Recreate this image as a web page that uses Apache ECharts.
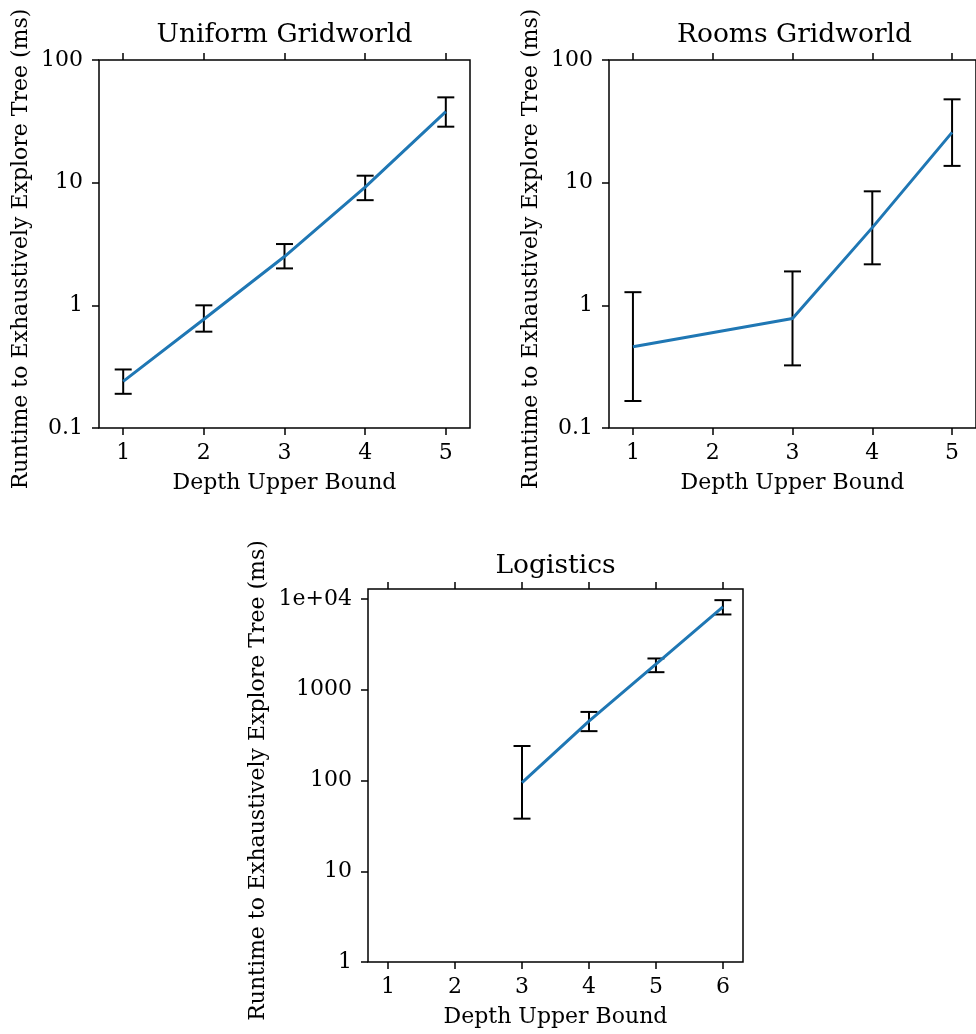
<!DOCTYPE html>
<html lang="en">
<head>
    <meta charset="UTF-8">
    <script src="https://cdn.jsdelivr.net/npm/echarts@6/dist/echarts.min.js"></script>
    <title>Runtime vs depth</title>
    <style>
        html, body { margin: 0; padding: 0; background: #fff; }
        #chart { width: 976px; height: 1034px; }
    </style>
</head>
<body>
    <div id="chart"></div>
    <script type="text/javascript">
        // depth upper bound vs runtime (ms), mean with error bar ends
        var uniformDepth = [1, 2, 3, 4, 5];
        var uniformMean  = [0.24, 0.77, 2.5, 9.2, 38];
        var uniformLow   = [0.19, 0.61, 2.0, 7.2, 28.6];
        var uniformHigh  = [0.30, 1.0, 3.16, 11.4, 49.6];

        var roomsDepth = [1, 3, 4, 5];
        var roomsMean  = [0.46, 0.78, 4.3, 25.7];
        var roomsLow   = [0.166, 0.324, 2.16, 13.7];
        var roomsHigh  = [1.28, 1.89, 8.5, 47.8];

        var logisticsDepth = [3, 4, 5, 6];
        var logisticsMean  = [95, 451, 1915, 8200];
        var logisticsLow   = [38, 350, 1563, 6760];
        var logisticsHigh  = [240, 570, 2213, 9720];

        var gridTicksX = [1, 2, 3, 4, 5];
        var logisticsTicksX = [1, 2, 3, 4, 5, 6];
        var gridTicksY = [0.1, 1, 10, 100];
        var logisticsTicksY = [1, 10, 100, 1000, 10000];

        var titles = ['Uniform Gridworld', 'Rooms Gridworld', 'Logistics'];
        var xName = 'Depth Upper Bound';
        var yName = 'Runtime to Exhaustively Explore Tree (ms)';

        var FONT = 'DejaVu Serif';
        var chart = echarts.init(document.getElementById('chart'));

        function yLabel(v) {
            if (Math.abs(v - 10000) < 1) return '1e+04';
            return String(+v.toPrecision(6));
        }

        function bottomAxis(grid, min, max, ticks) {
            return {
                type: 'value', gridIndex: grid, position: 'bottom', min: min, max: max,
                name: xName, nameLocation: 'middle', nameGap: 44,
                nameTextStyle: { fontFamily: FONT, fontSize: 22, color: '#000' },
                axisLine: { show: false },
                axisTick: { show: true, inside: false, length: 7, customValues: ticks,
                            lineStyle: { color: '#000', width: 1.5 } },
                axisLabel: { customValues: ticks, margin: 14, fontFamily: FONT, fontSize: 22, color: '#000' },
                splitLine: { show: false }
            };
        }
        function topAxis(grid, min, max, ticks) {
            return {
                type: 'value', gridIndex: grid, position: 'top', min: min, max: max,
                axisLine: { show: false },
                axisTick: { show: true, inside: false, length: 7, customValues: ticks,
                            lineStyle: { color: '#000', width: 1.5 } },
                axisLabel: { show: false },
                splitLine: { show: false }
            };
        }
        function leftAxis(grid, min, max, ticks, gap) {
            return {
                type: 'log', logBase: 10, gridIndex: grid, min: min, max: max,
                name: yName, nameLocation: 'middle', nameGap: gap,
                nameTextStyle: { fontFamily: FONT, fontSize: 22, color: '#000', padding: [0, 10, 0, 0] },
                axisLine: { show: false },
                axisTick: { show: true, inside: false, length: 7, customValues: ticks,
                            lineStyle: { color: '#000', width: 1.5 } },
                axisLabel: { customValues: ticks, margin: 16, fontFamily: FONT, fontSize: 22,
                             color: '#000', formatter: yLabel },
                splitLine: { show: false },
                minorTick: { show: false }
            };
        }

        function lineSeries(i, xs, ys) {
            return {
                type: 'line', xAxisIndex: i * 2, yAxisIndex: i,
                data: xs.map(function (x, k) { return [x, ys[k]]; }),
                symbol: 'none', z: 3,
                lineStyle: { color: '#1f77b4', width: 3 },
                itemStyle: { color: '#1f77b4' }
            };
        }
        function errorSeries(i, xs, lo, hi) {
            return {
                type: 'custom', xAxisIndex: i * 2, yAxisIndex: i, z: 2,
                data: xs.map(function (x, k) { return [x, lo[k], hi[k]]; }),
                renderItem: function (params, api) {
                    var x = api.value(0);
                    var a = api.coord([x, api.value(1)]);
                    var b = api.coord([x, api.value(2)]);
                    var w = 8.5;
                    var st = { stroke: '#000', lineWidth: 2 };
                    return {
                        type: 'group',
                        children: [
                            { type: 'line', shape: { x1: a[0], y1: a[1], x2: b[0], y2: b[1] }, style: st },
                            { type: 'line', shape: { x1: a[0] - w, y1: a[1], x2: a[0] + w, y2: a[1] }, style: st },
                            { type: 'line', shape: { x1: b[0] - w, y1: b[1], x2: b[0] + w, y2: b[1] }, style: st }
                        ]
                    };
                }
            };
        }

        var gridBox = { show: true, borderColor: '#000', borderWidth: 1.5, backgroundColor: 'transparent' };
        var titleStyle = { fontFamily: FONT, fontSize: 26.5, fontWeight: 'normal', color: '#000' };

        var option = {
            backgroundColor: '#fff',
            animation: false,
            title: [
                { text: titles[0], left: 284.5, top: 22, textAlign: 'center', padding: 0, textStyle: titleStyle },
                { text: titles[1], left: 794.5, top: 22, textAlign: 'center', padding: 0, textStyle: titleStyle },
                { text: titles[2], left: 555.5, top: 553, textAlign: 'center', padding: 0, textStyle: titleStyle }
            ],
            grid: [
                Object.assign({ left: 99, top: 60, width: 371, height: 368 }, gridBox),
                Object.assign({ left: 609, top: 60, width: 371, height: 368 }, gridBox),
                Object.assign({ left: 368, top: 589, width: 375, height: 373 }, gridBox)
            ],
            xAxis: [
                bottomAxis(0, 0.7, 5.3, gridTicksX), topAxis(0, 0.7, 5.3, gridTicksX),
                bottomAxis(1, 0.7, 5.3, gridTicksX), topAxis(1, 0.7, 5.3, gridTicksX),
                bottomAxis(2, 0.7, 6.3, logisticsTicksX), topAxis(2, 0.7, 6.3, logisticsTicksX)
            ],
            yAxis: [
                leftAxis(0, 0.1, 100, gridTicksY, 67),
                leftAxis(1, 0.1, 100, gridTicksY, 67),
                leftAxis(2, 1, 12900, logisticsTicksY, 99)
            ],
            series: [
                errorSeries(0, uniformDepth, uniformLow, uniformHigh),
                lineSeries(0, uniformDepth, uniformMean),
                errorSeries(1, roomsDepth, roomsLow, roomsHigh),
                lineSeries(1, roomsDepth, roomsMean),
                errorSeries(2, logisticsDepth, logisticsLow, logisticsHigh),
                lineSeries(2, logisticsDepth, logisticsMean)
            ]
        };
        chart.setOption(option);
    </script>
</body>
</html>
